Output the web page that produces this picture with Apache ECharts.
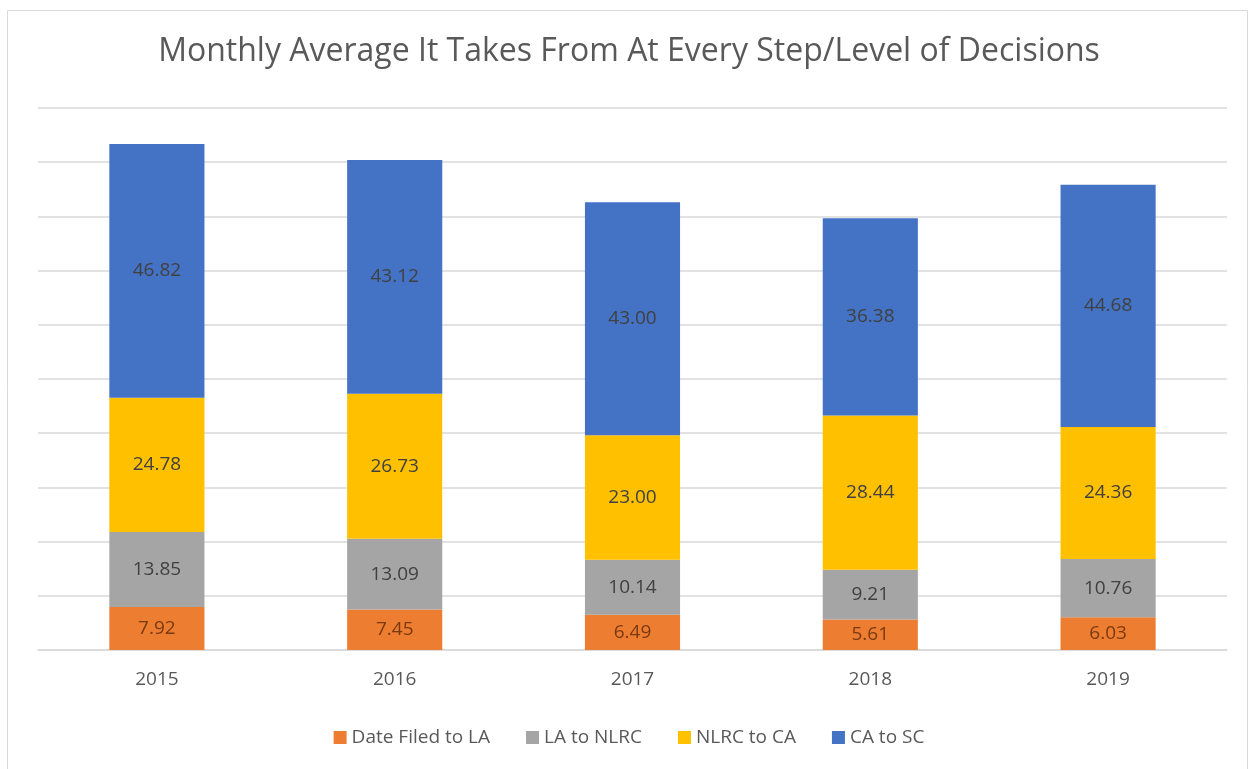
<!DOCTYPE html>
<html><head><meta charset="utf-8">
<script src="https://cdn.jsdelivr.net/npm/echarts@6/dist/echarts.min.js"></script>
<style>html,body{margin:0;padding:0;background:#fff}#c{width:1258px;height:769px}</style>
</head><body><div id="c"></div>
<script>
const categories = ['2015','2016','2017','2018','2019'];
const dateFiledToLA = [7.92, 7.45, 6.49, 5.61, 6.03];
const laToNLRC = [13.85, 13.09, 10.14, 9.21, 10.76];
const nlrcToCA = [24.78, 26.73, 23.00, 28.44, 24.36];
const caToSC = [46.82, 43.12, 43.00, 36.38, 44.68];
const seriesNames = ['Date Filed to LA','LA to NLRC','NLRC to CA','CA to SC'];
const colors = ['#ED7D31','#A5A5A5','#FFC000','#4472C4'];
const labelColors = ['#7a3a10','#404040','#404040','#404040'];
const dataSets = [dateFiledToLA, laToNLRC, nlrcToCA, caToSC];

const chart = echarts.init(document.getElementById('c'));
chart.setOption({
  animation:false,
  textStyle:{fontFamily:'Open Sans'},
  graphic:[{type:'rect',shape:{x:7.5,y:10.5,width:1240,height:770},style:{fill:'none',stroke:'#d9d9d9',lineWidth:1}}],
  title:{text:'Monthly Average It Takes From At Every Step/Level of Decisions',left:'center',top:31,
    textStyle:{fontFamily:'Open Sans',fontSize:32,fontWeight:'normal',color:'#595959'}},
  legend:{bottom:17,left:'center',itemWidth:13,itemHeight:13,itemGap:36,icon:'rect',
    textStyle:{fontFamily:'Open Sans',fontSize:19,color:'#595959'}},
  grid:{left:38,right:31,top:108,bottom:119},
  xAxis:{type:'category',data:categories,axisTick:{show:false},
    axisLine:{lineStyle:{color:'#d9d9d9',width:1.5}},
    axisLabel:{fontSize:19,color:'#595959',margin:20}},
  yAxis:{type:'value',min:0,max:100,interval:10,axisLabel:{show:false},axisLine:{show:false},axisTick:{show:false},
    splitLine:{lineStyle:{color:'#d9d9d9',width:1.5}}},
  series: dataSets.map((d,i)=>({
    name:seriesNames[i],type:'bar',stack:'t',data:d,barWidth:'40%',
    itemStyle:{color:colors[i]},
    label:{show:true,position:'inside',fontSize:19,color:labelColors[i],formatter:p=>p.value.toFixed(2)}
  }))
});
</script></body></html>
